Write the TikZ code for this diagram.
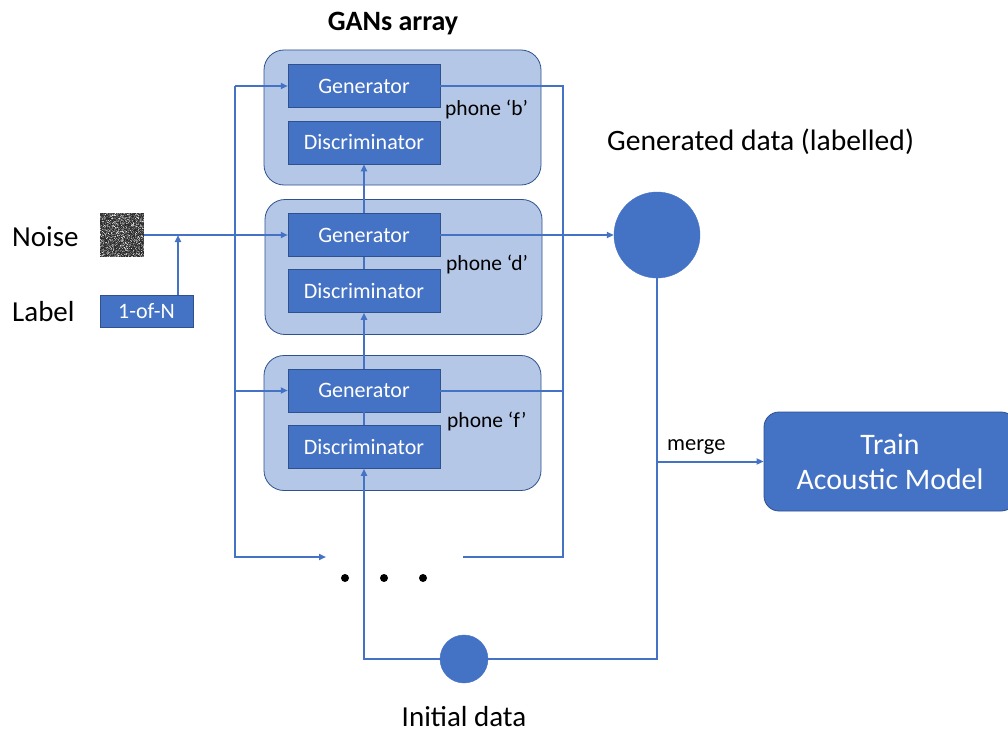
\documentclass[tikz,border=0pt]{standalone}
\usepackage{fontspec}
\setmainfont{Carlito}
\usetikzlibrary{arrows.meta,calc}
\definecolor{obl}{HTML}{4472C4}
\definecolor{obd}{HTML}{2F528F}
\definecolor{olt}{HTML}{B4C7E7}
\begin{document}
\begin{tikzpicture}[x=1pt,y=-1pt,
 conn/.style={draw=obl, line width=2pt},
 arr/.style={conn,-{Triangle[length=7pt,width=6pt]}},
 ganbox/.style={draw=obd, line width=0.8pt, fill=olt, rounded corners=20pt, minimum width=277pt, minimum height=135pt, inner sep=0pt},
 inbox/.style={draw=obd, line width=0.5pt, fill=obl, text=white, minimum width=152pt, minimum height=43pt, inner sep=0pt, font=\fontsize{22}{26}\selectfont},
 lbl/.style={font=\fontsize{29}{34}\selectfont, text=black, inner sep=0pt},
 phone/.style={font=\fontsize{21.5}{25}\selectfont, text=black, inner sep=0pt, anchor=west},
 blob/.style={circle, fill=obl, draw=obl, inner sep=0pt},
 dotstyle/.style={circle, fill=black, inner sep=0pt, minimum size=8pt},
]
\useasboundingbox[fill=white] (0,0) rectangle (1008,733);
\begin{scope}
\clip (0,0) rectangle (1008,733);

% title
\node[font=\bfseries\fontsize{28}{32}\selectfont, inner sep=0pt] (title) at (393,24) {GANs array};

% outer GAN boxes
\node[ganbox] (box1) at (402.5,117.5) {};
\node[ganbox] (box2) at (403.5,267) {};
\node[ganbox] (box3) at (402.5,423) {};

% inner boxes
\node[inbox] (gen1) at (364,86) {Generator};
\node[inbox] (disc1) at (364,142.5) {Discriminator};
\node[inbox] (gen2) at (364,235) {Generator};
\node[inbox] (disc2) at (364,291) {Discriminator};
\node[inbox] (gen3) at (364,390.5) {Generator};
\node[inbox] (disc3) at (364,447) {Discriminator};

% phone labels
\node[phone] (ph1) at (445,109) {phone ‘b’};
\node[phone] (ph2) at (446,264) {phone ‘d’};
\node[phone] (ph3) at (447,421) {phone ‘f’};

% left texts
\node[lbl, anchor=west] (noiset) at (12,237) {Noise};
\node[lbl, anchor=west] (labelt) at (12,312) {Label};

% noise image
\node[minimum size=44pt, inner sep=0pt] (noise) at (122,235) {};
\pgfmathsetseed{7}
\foreach \i in {0,...,43}{
  \foreach \j in {0,...,43}{
    \pgfmathsetmacro\g{int(100*rnd*rnd)}
    \fill[white!\g!black!85!white] ($(noise.north west)+(\i,\j)$) rectangle +(1.05,1.05);
  }
}

% 1-of-N box
\node[draw=obd, line width=0.5pt, fill=obl, text=white, minimum width=93pt, minimum height=32pt, inner sep=0pt, font=\fontsize{22}{26}\selectfont] (onen) at (146.5,311) {1-of-N};
\coordinate (join) at (178,235);
\draw[arr] (onen.north -| join) -- (join);

% noise to generator 2
\draw[arr] (noise.east) -- (gen2.west);

% left bus
\coordinate (L1) at (235,86);
\coordinate (botin) at (326,557);
\draw[arr] (L1) |- (botin);
\draw[arr] (L1) -- (gen1.west);
\draw[arr] (L1 |- gen3.west) -- (gen3.west);

% generated data circle
\node[blob, minimum size=86pt] (gen) at (657,235) {};
\node[font=\fontsize{29.6}{34}\selectfont, inner sep=0pt, anchor=west] (gent) at (607,142) {Generated data (labelled)};

% right bus
\coordinate (Rb) at (563,557);
\coordinate (botout) at (463,557);
\draw[conn] (gen1.east) -| (Rb) -- (botout);
\draw[conn] (gen3.east) -- (gen3.east -| Rb);
\draw[arr] (gen2.east) -- (gen.west);

% dots
\node[dotstyle] (d1) at (345,578) {};
\node[dotstyle] (d2) at (384,578) {};
\node[dotstyle] (d3) at (423,578) {};

% initial data
\node[blob, minimum size=48pt] (init) at (464,659) {};
\node[lbl] (initt) at (464,717) {Initial data};
\draw[arr] (init.west) -| (disc3.south);
\draw[conn] (disc3.north) -- (gen3.south);
\draw[arr] (gen3.north) -- (disc2.south);
\draw[conn] (disc2.north) -- (gen2.south);
\draw[arr] (gen2.north) -- (disc1.south);
\draw[conn] (init.east) -| (gen.south);

% train
\node[draw=obd, line width=0.8pt, fill=obl, text=white, rounded corners=15pt, minimum width=252pt, minimum height=99pt, inner sep=0pt, align=center, font=\fontsize{29.8}{35}\selectfont] (train) at (890,461.5) {Train\\Acoustic Model};
\coordinate (M) at (gen.south |- train.west);
\draw[arr] (M) -- (train.west);
\node[phone, font=\fontsize{22.5}{26}\selectfont] (merget) at (667,447) {merge};
\end{scope}
\end{tikzpicture}
\end{document}
